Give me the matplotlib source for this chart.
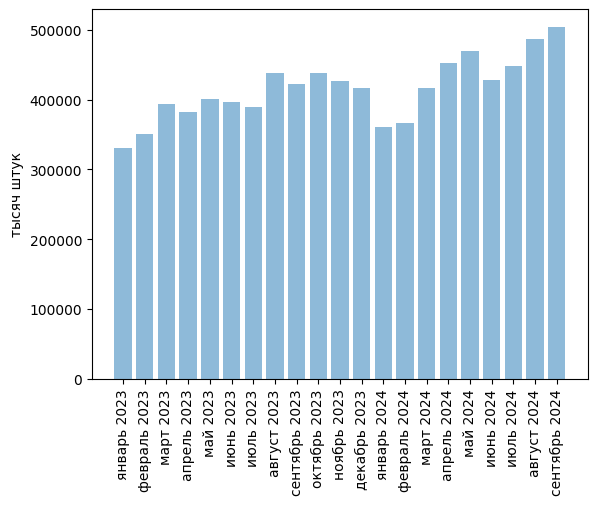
import matplotlib
matplotlib.use("Agg")
import matplotlib.pyplot as plt

months = ["январь 2023", "февраль 2023", "март 2023", "апрель 2023", "май 2023",
          "июнь 2023", "июль 2023", "август 2023", "сентябрь 2023", "октябрь 2023",
          "ноябрь 2023", "декабрь 2023", "январь 2024", "февраль 2024", "март 2024",
          "апрель 2024", "май 2024", "июнь 2024", "июль 2024", "август 2024",
          "сентябрь 2024"]
values = [330000, 350000, 393000, 381500, 401500, 397000, 390000, 438500, 423000,
          438500, 427000, 417000, 360000, 367000, 416000, 453000, 470000, 428500,
          448500, 487000, 504500]

fig, ax = plt.subplots()
ax.bar(months, values, alpha=0.5)
ax.set_ylabel("тысяч штук")
plt.xticks(rotation=90)
fig.savefig("out.png", bbox_inches="tight")
